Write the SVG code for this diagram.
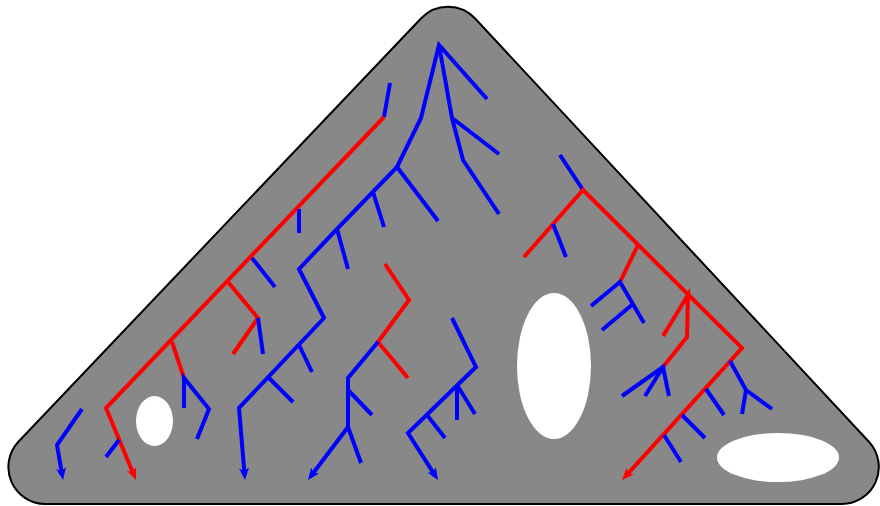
<svg xmlns="http://www.w3.org/2000/svg" width="880" height="506" viewBox="0 0 880 506">
<style>
.b{fill:none;stroke:#0000ff;stroke-width:4;stroke-linejoin:miter}
.r{fill:none;stroke:#ff0000;stroke-width:4;stroke-linejoin:miter}
.hole{fill:#ffffff}
</style>
<defs>
<marker id="ab" markerUnits="userSpaceOnUse" markerWidth="12" markerHeight="10" refX="7" refY="5" orient="auto"><path d="M0,0 L12,5 L0,10 L3,5 z" fill="#0000ff"/></marker>
<marker id="ar" markerUnits="userSpaceOnUse" markerWidth="12" markerHeight="10" refX="7" refY="5" orient="auto"><path d="M0,0 L12,5 L0,10 L3,5 z" fill="#ff0000"/></marker>
</defs>
<g id="plate">
<path d="M421.2,18.2 A37,37 0 0 1 475.1,18.5 L868.9,441.8 A37,37 0 0 1 841.8,504 L45.1,504 A37,37 0 0 1 18.4,441.7 Z" fill="#888888" stroke="#000000" stroke-width="2"/>
<ellipse class="hole" cx="154.5" cy="421" rx="18.5" ry="25"/>
<ellipse class="hole" cx="554" cy="366" rx="37" ry="73"/>
<ellipse class="hole" cx="778" cy="457.5" rx="61" ry="24.5"/>
</g>
<g id="connectors">
<g id="tree-left">
<polyline class="b" points="390,83 384,117"/>
<polyline class="r" points="384,117 106,408 134.1,475.4" marker-end="url(#ar)"/>
<polyline class="b" points="299,209 299,233"/>
<polyline class="b" points="252,258 275,287"/>
<polyline class="r" points="228,282 258,318 233,354"/>
<polyline class="b" points="258,318 263,354"/>
<polyline class="r" points="172,342 184,378"/>
<polyline class="b" points="184,408 184,378 209,409 197,439"/>
<polyline class="b" points="106,457 119,440"/>
<polyline class="b" points="82,409 57,445 62.2,475.1" marker-end="url(#ab)"/>
</g>
<g id="tree-top">
<polyline class="b" points="487,99 439,45 421,118 397,167 337,229 299,269 324,318 239,408 244.6,475" marker-end="url(#ab)"/>
<polyline class="b" points="439,45 452,118 463,160 499,214"/>
<polyline class="b" points="452,118 499,154"/>
<polyline class="b" points="397,167 438,221"/>
<polyline class="b" points="373,192 384,227"/>
<polyline class="b" points="337,229 348,269"/>
<polyline class="b" points="299,345 312,372"/>
<polyline class="b" points="268,377 293,402"/>
</g>
<g id="tree-middle">
<polyline class="r" points="385,264 409,300 378,342 408,378"/>
<polyline class="b" points="378,342 348,378 348,427 311,476" marker-end="url(#ab)"/>
<polyline class="b" points="348,390 372,415"/>
<polyline class="b" points="348,427 361,463"/>
</g>
<g id="tree-center">
<polyline class="b" points="452,318 476,367 408,433 435.3,475.8" marker-end="url(#ab)"/>
<polyline class="b" points="457,385 457,420"/>
<polyline class="b" points="457,385 475,414"/>
<polyline class="b" points="427,415 445,438"/>
</g>
<g id="tree-right">
<polyline class="b" points="560,155 583,190"/>
<polyline class="r" points="524,257 583,190 742,348 625.4,476.3" marker-end="url(#ar)"/>
<polyline class="b" points="553,224 566,257"/>
<polyline class="r" points="638,245 620,282"/>
<polyline class="b" points="591,306 620,282 644,323"/>
<polyline class="b" points="633,304 602,330"/>
<polyline class="r" points="663,336 688,295 687,337 663,367"/>
<polyline class="b" points="622,396 663,367 669,396"/>
<polyline class="b" points="663,367 645,396"/>
<polyline class="b" points="730,361 746,390 772,409"/>
<polyline class="b" points="746,390 742,414"/>
<polyline class="b" points="706,389 724,415"/>
<polyline class="b" points="682,415 705,438"/>
<polyline class="b" points="664,435 681,462"/>
</g>
</g>
</svg>
